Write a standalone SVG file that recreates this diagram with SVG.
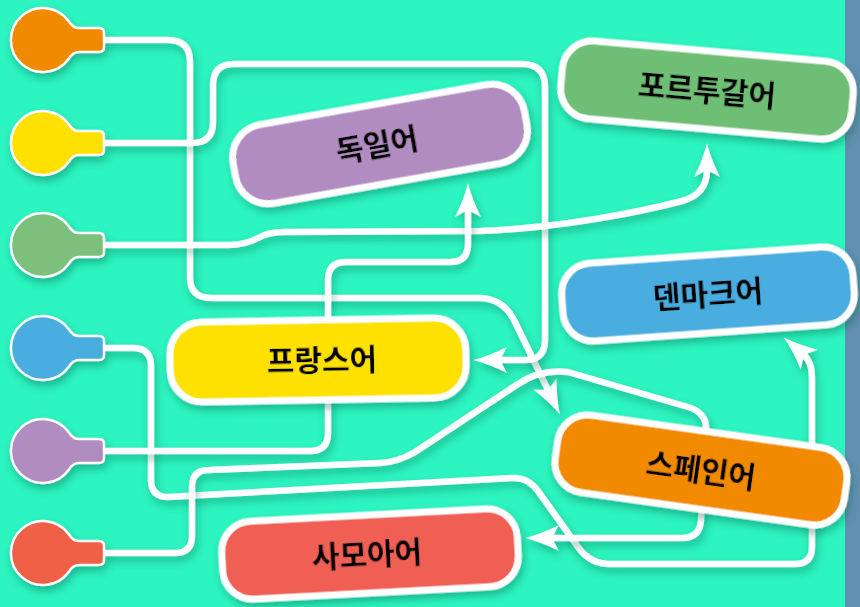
<svg xmlns="http://www.w3.org/2000/svg" xmlns:xlink="http://www.w3.org/1999/xlink" width="860" height="607" viewBox="0 0 860 607">
<style>
.wire{fill:none;stroke:#ffffff;stroke-width:6.5;stroke-linecap:butt;stroke-linejoin:round;filter:url(#sh)}
.arr{marker-end:url(#ah)}
.plug{stroke:#ffffff;stroke-width:2.5;filter:url(#sh)}
.box{stroke:#ffffff;stroke-width:7}
.lbl{font-family:"Noto Sans CJK KR","Noto Sans",sans-serif;font-size:30px;font-weight:700;fill:#000000;text-anchor:middle}
</style>
<defs>
<filter id="sh" filterUnits="userSpaceOnUse" x="-1000" y="-1000" width="3000" height="3000">
<feDropShadow dx="2" dy="5" stdDeviation="4" flood-color="#0a5c46" flood-opacity="0.4"/>
</filter>
<marker id="ah" markerUnits="userSpaceOnUse" markerWidth="40" markerHeight="30" viewBox="0 -15 40 30" refX="7" refY="0" orient="auto">
<path d="M34,0 Q18,-4 0,-13 L7,0 L0,13 Q18,4 34,0 Z" fill="#ffffff"/>
</marker>
<path id="plugshape" d="M36,-12 L56,-12 Q61,-12 61,-7 L61,7 Q61,12 56,12 L36,12 Q30,12 26,18.5 A32,32 0 1 1 26,-18.5 Q30,-12 36,-12 Z"/>
</defs>
<rect x="0" y="0" width="860" height="607" fill="#2df5c1"/>
<rect x="845" y="0" width="15" height="607" fill="#6190b0"/>

<g id="plugs">
<g id="plug-orange"><use xlink:href="#plugshape" href="#plugshape" x="43" y="40" class="plug" fill="#f28a00"/></g>
<g id="plug-yellow"><use xlink:href="#plugshape" href="#plugshape" x="43" y="143" class="plug" fill="#ffe100"/></g>
<g id="plug-green"><use xlink:href="#plugshape" href="#plugshape" x="43" y="245" class="plug" fill="#7dc07c"/></g>
<g id="plug-blue"><use xlink:href="#plugshape" href="#plugshape" x="43" y="348" class="plug" fill="#48ade0"/></g>
<g id="plug-purple"><use xlink:href="#plugshape" href="#plugshape" x="43" y="451" class="plug" fill="#b08cc0"/></g>
<g id="plug-red"><use xlink:href="#plugshape" href="#plugshape" x="43" y="553" class="plug" fill="#ef6047"/></g>
</g>

<g id="connectors">
<path class="wire arr" d="M104,40 L168,40 Q190,40 190,62 L190,278 Q190,298 212,298 L478,298 Q503,298 514,320 L548,390"/>
<path class="wire arr" d="M104,143 L192,143 Q213,143 213,122 L213,85 Q213,64 234,64 L522,64 Q545,64 545,87 L545,340 Q545,360 525,360 L500,360"/>
<path class="wire arr" d="M104,245 L228,245 Q245,245 258,238 Q268,232 285,232 L480,231 C560,228 640,212 682,201 Q707,194 707,170"/>
<path class="wire arr" d="M104,348 L133,348 Q151,348 151,366 L151,480 Q151,497 168,497 L512,478 Q528,477 538,491 L578,547 Q590,564 610,564 L795,564 Q812,564 812,547 L812,378 Q812,362 804,355"/>
<path class="wire arr" d="M104,451 L310,451 Q328,451 328,433 L328,280 Q328,262 346,262 L450,262 Q468,262 468,244 L468,210"/>
<path class="wire arr" d="M104,553 L175,553 Q192,553 192,536 L192,487 Q192,470 209,470 L380,463 Q398,462 415,452 L518,384 Q540,369 568,372 L688,407 Q708,413 706,432 L701,520 Q700,538 682,538 L552,538"/>
</g>

<g id="node-german" transform="translate(380,144) rotate(-10)" filter="url(#sh)">
<rect class="box" x="-148" y="-40" width="296" height="80" rx="33" fill="#b08cc0"/>
<text class="lbl" x="-3" y="0" dy="0.36em">독일어</text>
</g>
<g id="node-portuguese" transform="translate(707,90) rotate(5)" filter="url(#sh)">
<rect class="box" x="-146" y="-39" width="292" height="78" rx="30" fill="#6ebe74"/>
<text class="lbl" x="0" y="0" dy="0.36em">포르투갈어</text>
</g>
<g id="node-danish" transform="translate(708,294) rotate(-4)" filter="url(#sh)">
<rect class="box" x="-146" y="-39" width="292" height="78" rx="30" fill="#48ade0"/>
<text class="lbl" x="0" y="0" dy="0.36em">덴마크어</text>
</g>
<g id="node-french" transform="translate(318,360) rotate(-1)" filter="url(#sh)">
<rect class="box" x="-148" y="-40" width="296" height="80" rx="32" fill="#ffe100"/>
<text class="lbl" x="4" y="0" dy="0.36em">프랑스어</text>
</g>
<g id="node-spanish" transform="translate(701,470) rotate(8)" filter="url(#sh)">
<rect class="box" x="-146" y="-39" width="292" height="78" rx="30" fill="#f28a00"/>
<text class="lbl" x="0" y="0" dy="0.36em">스페인어</text>
</g>
<g id="node-samoan" transform="translate(370,554) rotate(-3)" filter="url(#sh)">
<rect class="box" x="-148" y="-39" width="296" height="78" rx="30" fill="#ef5f52"/>
<text class="lbl" x="-3" y="0" dy="0.36em">사모아어</text>
</g>
</svg>
